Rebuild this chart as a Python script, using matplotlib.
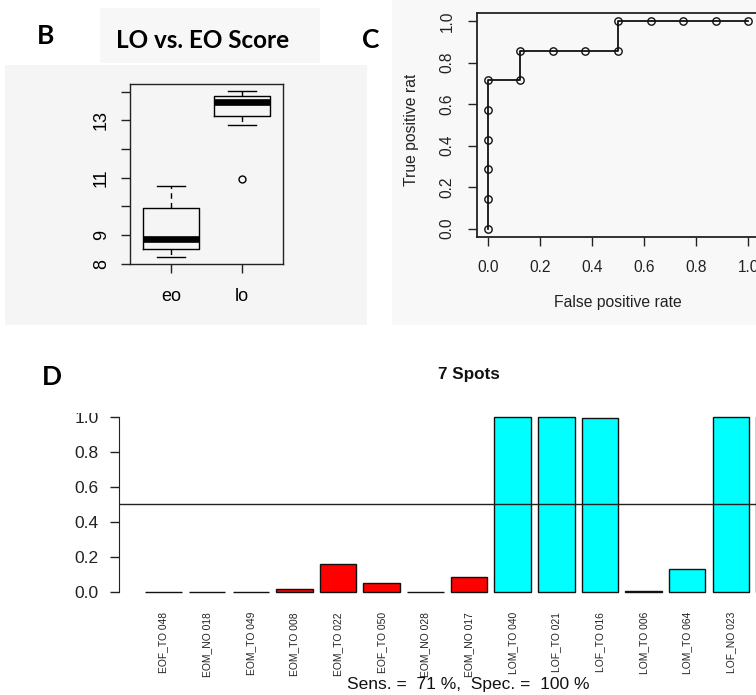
import matplotlib
matplotlib.use("Agg")
import matplotlib.pyplot as plt
import numpy as np
from matplotlib.patches import Rectangle
from matplotlib.transforms import Bbox

W, H = 756, 695
R_FONT = "Liberation Sans"
HEAD_FONT = "Lato"

# ---- Panel B: LO vs. EO score (box summaries) ----
groups = ["eo", "lo"]
box_q1 = [8.51, 13.14]
box_med = [8.87, 13.63]
box_q3 = [9.96, 13.86]
whisk_lo = [8.23, 12.85]
whisk_hi = [10.70, 14.03]
outliers = [[], [10.94]]
b_ticks = [8, 9, 10, 11, 12, 13, 14]
b_ticklabels = ["8", "9", "", "11", "", "13", ""]

# ---- Panel C: ROC curve ----
fpr = [0.0, 0.0, 0.0, 0.0, 0.0, 0.0, 0.125, 0.125, 0.25, 0.375, 0.5, 0.5,
       0.625, 0.75, 0.875, 1.0]
tpr = [0.0, 0.143, 0.286, 0.429, 0.571, 0.714, 0.714, 0.857, 0.857, 0.857,
       0.857, 1.0, 1.0, 1.0, 1.0, 1.0]
roc_ticks = [0.0, 0.2, 0.4, 0.6, 0.8, 1.0]

# ---- Panel D: per-sample LO probability, 7 spots ----
samples = ["EOF_TO 048", "EOM_NO 018", "EOM_TO 049", "EOM_TO 008",
           "EOM_TO 022", "EOF_TO 050", "EOM_NO 028", "EOM_NO 017",
           "LOM_TO 040", "LOF_TO 021", "LOF_TO 016", "LOM_TO 006",
           "LOM_TO 064", "LOF_NO 023", ""]  # last sample sits past the right edge
sample_group = ["EO"] * 8 + ["LO"] * 7
prob_lo = [0.0, 0.0, 0.0, 0.015, 0.157, 0.052, 0.0, 0.084,
           1.0, 1.0, 0.994, 0.004, 0.13, 1.0, 1.0]
threshold = 0.5
d_ticks = [0.0, 0.2, 0.4, 0.6, 0.8, 1.0]
group_colors = {"EO": "#ff0000", "LO": "#00ffff"}
sens, spec = 71, 100


def rect(l, t, r, b):
    """Axes rectangle from pixel edges (origin at top-left)."""
    return [l / W, 1 - b / H, (r - l) / W, (b - t) / H]


def fx(x):
    return x / W


def fy(y):
    return 1 - y / H


fig = plt.figure(figsize=(W / 100, H / 100), dpi=100)
fig.patch.set_facecolor("white")

# faint panel backgrounds
for (l, t, r, b, c) in [(5, 65, 367, 325, "#f5f5f5"),
                        (100, 8, 320, 63, "#f7f7f7"),
                        (392, 0, 756, 325, "#f8f8f8")]:
    fig.add_artist(Rectangle((fx(l), fy(b)), (r - l) / W, (b - t) / H,
                             transform=fig.transFigure, facecolor=c,
                             edgecolor="none", zorder=-10))

# panel letters and heading
for letter, (x, y) in {"B": (46, 36), "C": (371, 40), "D": (52, 377)}.items():
    fig.text(fx(x), fy(y), letter, fontsize=19, fontweight="bold",
             family=HEAD_FONT, ha="center", va="center")
fig.text(fx(202.5), fy(41), "LO vs. EO Score", fontsize=17.5,
         fontweight="bold", family=HEAD_FONT, ha="center", va="center")

# ---------------- Panel B ----------------
axB = fig.add_axes(rect(130, 84, 283, 264))
axB.set_facecolor("none")
stats = []
for i, g in enumerate(groups):
    stats.append(dict(label=g, med=box_med[i], q1=box_q1[i], q3=box_q3[i],
                      whislo=whisk_lo[i], whishi=whisk_hi[i],
                      fliers=outliers[i]))
axB.bxp(stats, positions=[1, 2], widths=0.8, capwidths=0.4,
        boxprops=dict(color="black", lw=1.0),
        medianprops=dict(color="black", lw=4.8, solid_capstyle="butt"),
        whiskerprops=dict(color="black", lw=1.0, linestyle=(0, (4, 3))),
        capprops=dict(color="black", lw=1.0),
        flierprops=dict(marker="o", mfc="none", mec="black", ms=5, mew=1.0))
all_vals = whisk_lo + whisk_hi + [v for o in outliers for v in o]
lo, hi = min(all_vals), max(all_vals)
pad = 0.04 * (hi - lo)
axB.set_ylim(lo - pad, hi + pad)
axB.set_xlim(0.42, 2.58)
axB.set_yticks(b_ticks)
axB.set_yticklabels(b_ticklabels, family=R_FONT, fontsize=13,
                    rotation=90, va="center")
axB.set_xticks([1, 2])
axB.set_xticklabels(groups, family=R_FONT, fontsize=13)
axB.tick_params(direction="out", length=6.5, width=1.0, color="#222222")
axB.tick_params(axis="y", pad=8)
axB.tick_params(axis="x", pad=10.5)
for s in axB.spines.values():
    s.set_linewidth(1.0)
    s.set_color("#222222")

# ---------------- Panel C ----------------
axC = fig.add_axes(rect(477.3, 12.7, 758.7, 237.0))
axC.set_facecolor("none")
axC.plot(fpr, tpr, "-o", color="#111111", lw=1.3, ms=5.3, mfc="none",
         mew=1.0)
axC.set_xlim(-0.04, 1.04)
axC.set_ylim(-0.04, 1.04)
axC.set_xticks(roc_ticks)
axC.set_xticklabels([f"{v:.1f}" for v in roc_ticks], family=R_FONT,
                    fontsize=11.2, color="#222222")
axC.set_yticks(roc_ticks)
axC.set_yticklabels([f"{v:.1f}" for v in roc_ticks], family=R_FONT,
                    fontsize=11.2, rotation=90, va="center", color="#222222")
axC.tick_params(direction="out", length=6.5, width=1.0, color="#222222",
                pad=10)
for s in axC.spines.values():
    s.set_linewidth(1.3)
    s.set_color("#222222")
fig.text(fx(618), fy(303), "False positive rate", family=R_FONT,
         fontsize=11.3, ha="center", va="center", color="#222222")
ylab = fig.text(fx(411.5), fy(125), "True positive rate", family=R_FONT,
                fontsize=11.3, ha="center", va="center", rotation=90,
                color="#222222")
ylab.set_clip_box(Bbox.from_extents(0, 0, W, H - 75))
ylab.set_clip_on(True)

# ---------------- Panel D ----------------
axD = fig.add_axes(rect(119.3, 409.7, 818.7, 598.7))
axD.set_facecolor("none")
n = len(prob_lo)
xpos = 0.7 + 1.2 * np.arange(n)
axD.bar(xpos, prob_lo, width=1.0,
        color=[group_colors[g] for g in sample_group],
        edgecolor="#111111", linewidth=1.0)
axD.axhline(threshold, color="#222222", lw=1.0)
axD.set_xlim(0.2 - 0.04 * (1.2 * n - 0.2), 1.2 * n + 0.04 * (1.2 * n - 0.2))
axD.set_ylim(-0.04, 1.04)
axD.set_xticks(xpos)
axD.set_xticklabels(samples, rotation=90, family=R_FONT, fontsize=7.4,
                    color="#222222")
axD.tick_params(axis="x", length=0, pad=9.6)
axD.set_yticks(d_ticks)
axD.set_yticklabels([f"{v:.1f}" for v in d_ticks], family=R_FONT,
                    fontsize=12.5, color="#222222")
axD.tick_params(axis="y", direction="out", length=6.7, width=1.0,
                color="#222222", pad=8)
for side in ("top", "right", "bottom"):
    axD.spines[side].set_visible(False)
axD.spines["left"].set_bounds(0, 1)
axD.spines["left"].set_color("#222222")
for lab in axD.get_yticklabels():
    lab.set_clip_box(Bbox.from_extents(0, 0, W, H - 413))
    lab.set_clip_on(True)

fig.text(fx(469), fy(375), "7 Spots", family=R_FONT, fontsize=12.3,
         fontweight="bold", ha="center", va="center", color="#111111")
fig.text(fx(468.5), fy(685), f"Sens. =  {sens} %,  Spec. =  {spec} %",
         family=R_FONT, fontsize=12.5, ha="center", va="center",
         color="#111111")

fig.savefig("out.png", dpi=100)
